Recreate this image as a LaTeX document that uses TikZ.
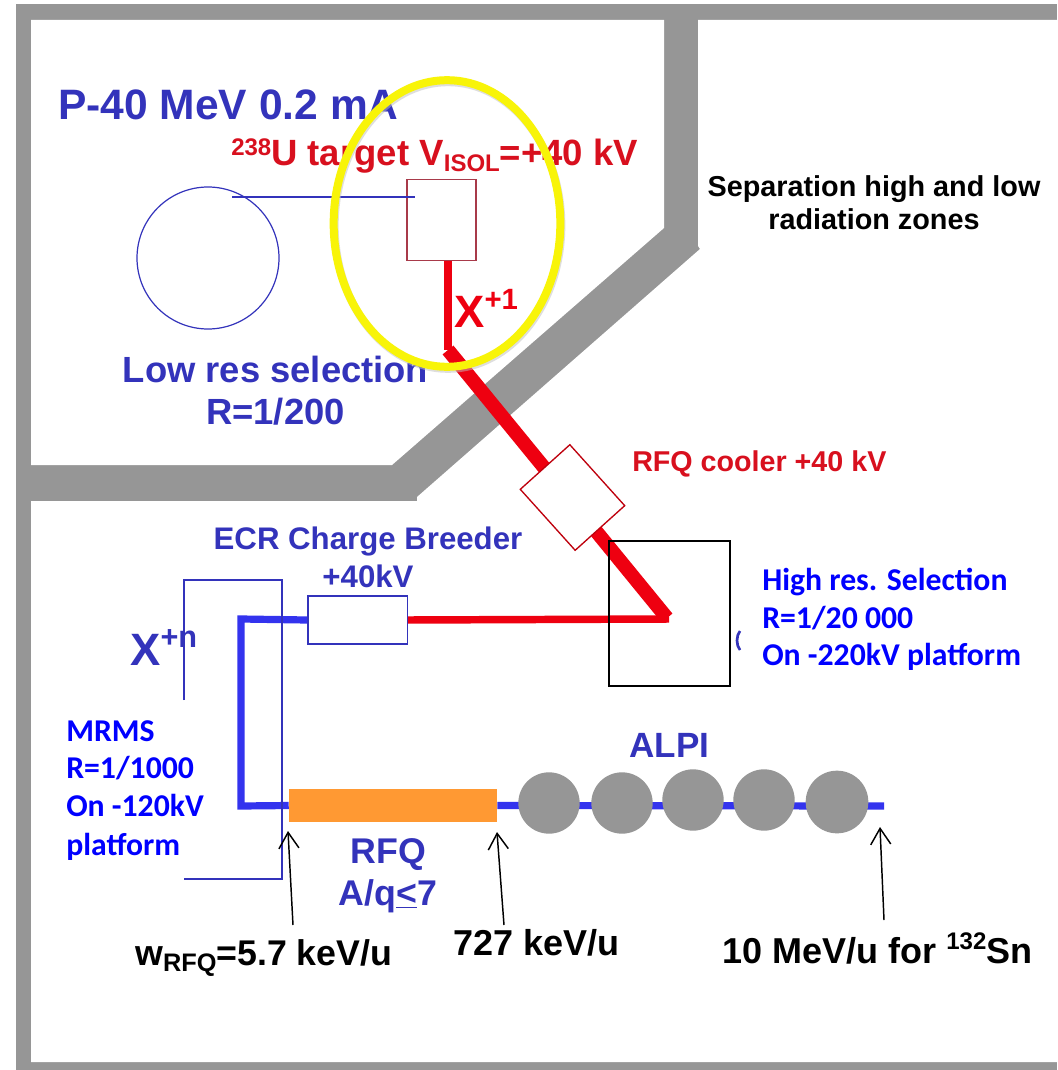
\documentclass[tikz,border=0pt]{standalone}
\usepackage{fontspec}
\setmainfont{Liberation Sans}
\newfontfamily\calib{Carlito}
\usetikzlibrary{arrows.meta,shapes.geometric}
\definecolor{wallgray}{HTML}{969696}
\definecolor{dimblue}{HTML}{3333BB}
\definecolor{beamblue}{HTML}{3333EE}
\definecolor{purered}{HTML}{EE0010}
\definecolor{textred}{HTML}{D8101E}
\definecolor{boxred}{HTML}{A83A4A}
\definecolor{rfqorange}{HTML}{FF9933}
\definecolor{ringyellow}{HTML}{F8F408}
\newcommand{\fs}[1]{\fontsize{#1}{#1}\selectfont}
\tikzset{
  lab/.style={anchor=base west,inner sep=0pt,font=\bfseries},
  labc/.style={anchor=base,inner sep=0pt,font=\bfseries},
  cal/.style={anchor=base west,inner sep=0pt,text=blue,font=\calib\bfseries\fs{23.8}},
  thinblue/.style={draw=dimblue,line width=0.9pt},
  cavity/.style={circle,fill=wallgray,minimum size=46pt,inner sep=0pt},
  pointer/.style={black,line width=1.1pt,-{Straight Barb[length=12pt,width=15pt,line width=1.1pt]}},
  bluebeam/.style={beamblue,line width=5.4pt},
}
\begin{document}
\begin{tikzpicture}[x=0.75pt,y=-0.75pt]
\useasboundingbox (0,0) rectangle (1057,1070);
\fill[white] (0,0) rectangle (1057,1070);
% walls
\fill[wallgray] (16,4) rectangle (1057,1070);
\fill[white] (31,20) -- (664,20) -- (664,228) -- (392,465) -- (31,465) -- cycle;
\fill[white] (698,20) -- (1057,20) -- (1057,1062) -- (31,1062) -- (31,501) -- (417,501) -- (417,497) -- (700,249) -- (698,246) -- cycle;

% coordinates
\coordinate (tgtout) at (448,261);
\coordinate (bendA) at (448,350);
\coordinate (bendB) at (667,618);
\coordinate (bendC) at (669,619);
\coordinate (bendD) at (241,619);
\coordinate (bendE) at (241,806);
\coordinate (beamend) at (884,806);
\coordinate (linein) at (415,197);
\coordinate (lineout) at (232,197);
\coordinate (mrmsA) at (184,700);
\coordinate (mrmsB) at (184,580);
\coordinate (mrmsC) at (282,580);
\coordinate (mrmsD) at (282,879);
\coordinate (mrmsE) at (184,879);

% beam lines
\draw[purered,line width=5.6pt] (tgtout) -- (bendA);
\draw[purered,line width=10.5pt] (bendA) -- (bendB);

% boxes
\node[draw=purered!80!black,line width=1pt,fill=white,rotate=-48,minimum width=61.5pt,minimum height=50pt,inner sep=0pt] (cooler) at (572.5,497.5) {};
\node[draw=dimblue,line width=1pt,fill=white,minimum width=74.5pt,minimum height=36pt,inner sep=0pt] (ecr) at (357.5,620) {};
\node[fill=rfqorange,minimum width=156pt,minimum height=24.75pt,inner sep=0pt] (rfq) at (393,805.5) {};
\node[draw=boxred,line width=0.9pt,minimum width=51.75pt,minimum height=61pt,inner sep=0pt] (target) at (441.5,220) {};
\node[circle,thinblue,minimum size=106.5pt,inner sep=0pt] (sep) at (208,258) {};

\draw[thinblue] (lineout) -- (linein);
\draw[purered,line width=5.6pt] (ecr.east) -- (bendC);
\draw[bluebeam] (ecr.west) -- (bendD) -- (bendE) -- (rfq.west);
\draw[bluebeam] (rfq.east) -- (beamend);
\draw[thinblue] (mrmsA) -- (mrmsB) -- (mrmsC) -- (mrmsD) -- (mrmsE);

% ALPI cavities
\node[cavity] (c1) at (549,803) {};
\node[cavity] (c2) at (622,803) {};
\node[cavity] (c3) at (693,800) {};
\node[cavity] (c4) at (764,800) {};
\node[cavity,minimum size=47pt] (c5) at (837,802) {};

% high res box
\node[draw=black,line width=1.2pt,minimum width=90.5pt,minimum height=108.5pt,inner sep=0pt] (hires) at (669.5,613.5) {};
\draw[dimblue,line width=2pt] (740,631) .. controls (736,636) and (736,645) .. (740,650);

% labels
\node[lab,text=dimblue,font=\bfseries\fs{31.9}] (ptxt) at (58,120) {P-40 MeV 0.2 mA};
\node[lab,text=textred,font=\bfseries\fs{27.4}] (utxt) at (231,166) {\raisebox{7.5pt}{\fs{18}238}U target V\raisebox{-4.5pt}{\fs{18}ISOL}=+40 kV};
\node[lab,text=purered,font=\bfseries\fs{34}] (xone) at (454,327) {X\raisebox{13pt}{\fs{22}+1}};
\node[lab,text=dimblue,font=\bfseries\fs{34}] (xn) at (130,665) {X\raisebox{13pt}{\fs{23}+n}};
\node[labc,text=dimblue,font=\bfseries\fs{27.3}] (low1) at (275.5,382) {Low res selection};
\node[labc,text=dimblue,font=\bfseries\fs{27.3}] (low2) at (275.5,424) {R=1/200};
\node[labc,text=dimblue,font=\bfseries\fs{23.4}] (ecr1) at (368,549) {ECR Charge Breeder};
\node[labc,text=dimblue,font=\bfseries\fs{23.4}] (ecr2) at (368,587) {+40kV};
\node[lab,text=textred,font=\bfseries\fs{21.5}] (cooltxt) at (632,471) {RFQ cooler +40 kV};
\node[labc,text=black,font=\bfseries\fs{21.6}] (sep1) at (874,196) {Separation high and low};
\node[labc,text=black,font=\bfseries\fs{21.6}] (sep2) at (874,229) {radiation zones};
\node[labc,text=dimblue,font=\bfseries\fs{26.3}] (alpi) at (669.5,757) {ALPI};
\node[labc,text=dimblue,font=\bfseries\fs{26.8}] (rfq1) at (388.5,863) {RFQ};
\node[labc,text=dimblue,font=\bfseries\fs{26.8}] (rfq2) at (388,905) {A/q\underline{<}7};
\node[lab,text=black,font=\bfseries\fs{26.8}] (w) at (135,965) {w\raisebox{-5pt}{\fs{19}RFQ}=5.7 keV/u};
\node[lab,text=black,font=\bfseries\fs{27}] (k) at (453,955) {727 keV/u};
\node[lab,text=black,font=\bfseries\fs{27}] (m) at (722,963) {10 MeV/u for \raisebox{10pt}{\fs{18}132}Sn};

\node[cal] (m1) at (66,741) {MRMS};
\node[cal] (m2) at (66,778) {R=1/1000};
\node[cal] (m3) at (66,816) {On -120kV};
\node[cal] (m4) at (66,855) {platform};
\node[cal] (h1) at (762,590) {High res. Selection};
\node[cal] (h2) at (762,628) {R=1/20 000};
\node[cal] (h3) at (762,665) {On -220kV platform};

% pointers
\coordinate (p1) at (293,925); \coordinate (p1e) at (288,831);
\coordinate (p2) at (504,925); \coordinate (p2e) at (497,832);
\coordinate (p3) at (884,920); \coordinate (p3e) at (880,827);
\draw[pointer] (p1) -- (p1e);
\draw[pointer] (p2) -- (p2e);
\draw[pointer] (p3) -- (p3e);

% ring
\node[ellipse,draw=black!25,opacity=.5,line width=6pt,minimum width=170pt,minimum height=215pt,inner sep=0pt] (ringshadow) at (448,225.5) {};
\node[ellipse,draw=ringyellow,line width=6pt,minimum width=170pt,minimum height=215pt,inner sep=0pt] (ring) at (447,223.5) {};
\end{tikzpicture}
\end{document}
